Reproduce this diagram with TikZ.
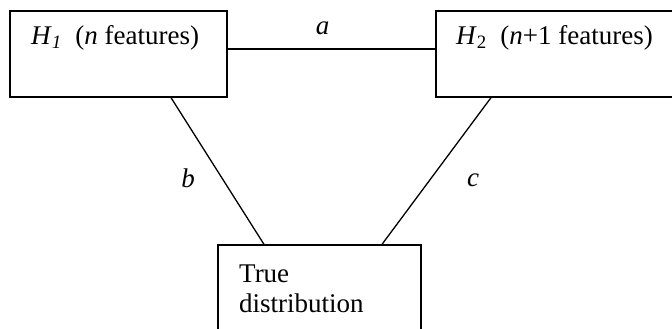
\documentclass[tikz,border=0pt]{standalone}
\usepackage{fontspec}
\setmainfont{Liberation Serif}

\begin{document}
\begin{tikzpicture}[
    x=1pt, y=-1pt,
    box/.style={rectangle, draw, line width=1.3pt, inner sep=0pt},
    txt/.style={inner sep=0pt, font=\fontsize{27}{30}\selectfont},
    link/.style={line width=1.3pt}
]
    \useasboundingbox (0,0) rectangle (672,329);
    \clip (0,0) rectangle (672,329);

    % hypothesis boxes
    \node[box, minimum width=217pt, minimum height=86pt] (H1) at (118.5,54) {};
    \node[txt, anchor=base west] (H1t) at (31,45) {\textit{H}\textsubscript{\textit{1}}\ \ (\textit{n} features)};

    \node[box, minimum width=244pt, minimum height=86pt] (H2) at (558,54) {};
    \node[txt, anchor=base west] (H2t) at (456,45) {\textit{H}\textsubscript{2}\ \ (\textit{n}+1 features)};

    % true distribution
    \node[box, minimum width=203pt, minimum height=95pt] (T) at (319.5,292.5) {};
    \node[txt, anchor=base west] (Tt1) at (239,282) {True};
    \node[txt, anchor=base west] (Tt2) at (239,312) {distribution};

    \draw[link] ([yshift=5pt]H1.east) --node[txt, midway, above, xshift=-9pt, yshift=14pt] (la) {\textit{a}} ([yshift=5pt]H2.west);
    \draw[link] ([xshift=52.5pt]H1.south) --node[txt, midway, xshift=-29.5pt, yshift=-7pt] (lb) {\textit{b}} ([xshift=-55.5pt]T.north);
    \draw[link] ([xshift=-67pt]H2.south) --node[txt, midway, xshift=36.5pt, yshift=-9pt] (lc) {\textit{c}} ([xshift=62.5pt]T.north);

\end{tikzpicture}
\end{document}
